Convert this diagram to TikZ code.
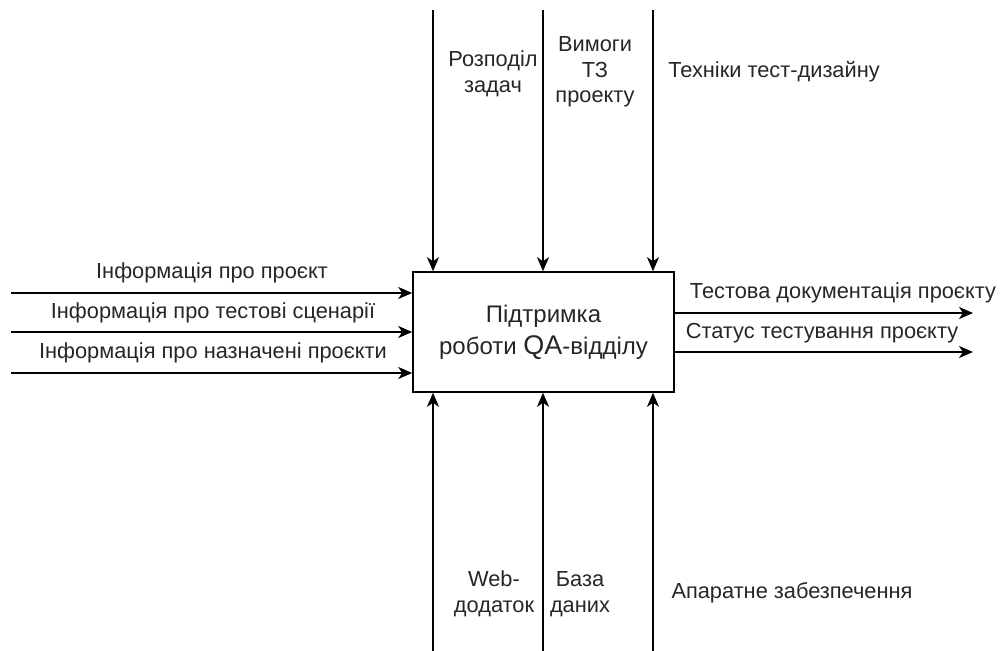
\documentclass[tikz,border=0pt]{standalone}
\usepackage{fontspec}
\setmainfont{Liberation Sans}
\usetikzlibrary{arrows.meta}
\begin{document}
\begin{tikzpicture}[x=1pt,y=-1pt,
  flow/.style={line width=1.6pt, -{Stealth[length=14pt,width=12pt,inset=4pt]}},
  lbl/.style={font=\fontsize{21.8}{25.5}\selectfont, inner sep=0pt, align=center, text=black!85},
]
\useasboundingbox (0,0) rectangle (1003,650);

% function box
\node[draw, line width=1.6pt, minimum width=261pt, minimum height=120pt, inner sep=0pt,
      align=center, text=black!85, font=\fontsize{24}{32}\selectfont] (fn) at (543.5,332)
  {Підтримка\\роботи {\fontsize{27}{32}\selectfont QA}-відділу};

% inputs
\coordinate (in1) at (11,293);
\coordinate (in2) at (11,332);
\coordinate (in3) at (11,373);
\draw[flow] (in1) -- (fn.west |- in1);
\draw[flow] (in2) -- (fn.west |- in2);
\draw[flow] (in3) -- (fn.west |- in3);
\node[lbl] (li1) at (212,273) {Інформація про проєкт};
\node[lbl] (li2) at (213,313) {Інформація про тестові сценарії};
\node[lbl] (li3) at (213,353) {Інформація про назначені проєкти};

% outputs
\coordinate (out1) at (973,313);
\coordinate (out2) at (973,352);
\draw[flow] (fn.east |- out1) -- (out1);
\draw[flow] (fn.east |- out2) -- (out2);
\node[lbl] (lo1) at (843,293) {Тестова документація проєкту};
\node[lbl] (lo2) at (822,333) {Статус тестування проєкту};

% controls
\coordinate (c1) at (433,10);
\coordinate (c2) at (543,10);
\coordinate (c3) at (653,10);
\draw[flow] (c1) -- (c1 |- fn.north);
\draw[flow] (c2) -- (c2 |- fn.north);
\draw[flow] (c3) -- (c3 |- fn.north);
\node[lbl] (lc1) at (493,74) {Розподіл\\задач};
\node[lbl] (lc2) at (595,72) {Вимоги\\ТЗ\\проекту};
\node[lbl] (lc3) at (774,72) {Техніки тест-дизайну};

% mechanisms
\coordinate (m1) at (433,652);
\coordinate (m2) at (543,652);
\coordinate (m3) at (653,652);
\draw[flow] (m1) -- (m1 |- fn.south);
\draw[flow] (m2) -- (m2 |- fn.south);
\draw[flow] (m3) -- (m3 |- fn.south);
\node[lbl] (lm1) at (494,594) {Web-\\додаток};
\node[lbl] (lm2) at (580,594) {База\\даних};
\node[lbl] (lm3) at (792,593) {Апаратне забезпечення};
\end{tikzpicture}
\end{document}
